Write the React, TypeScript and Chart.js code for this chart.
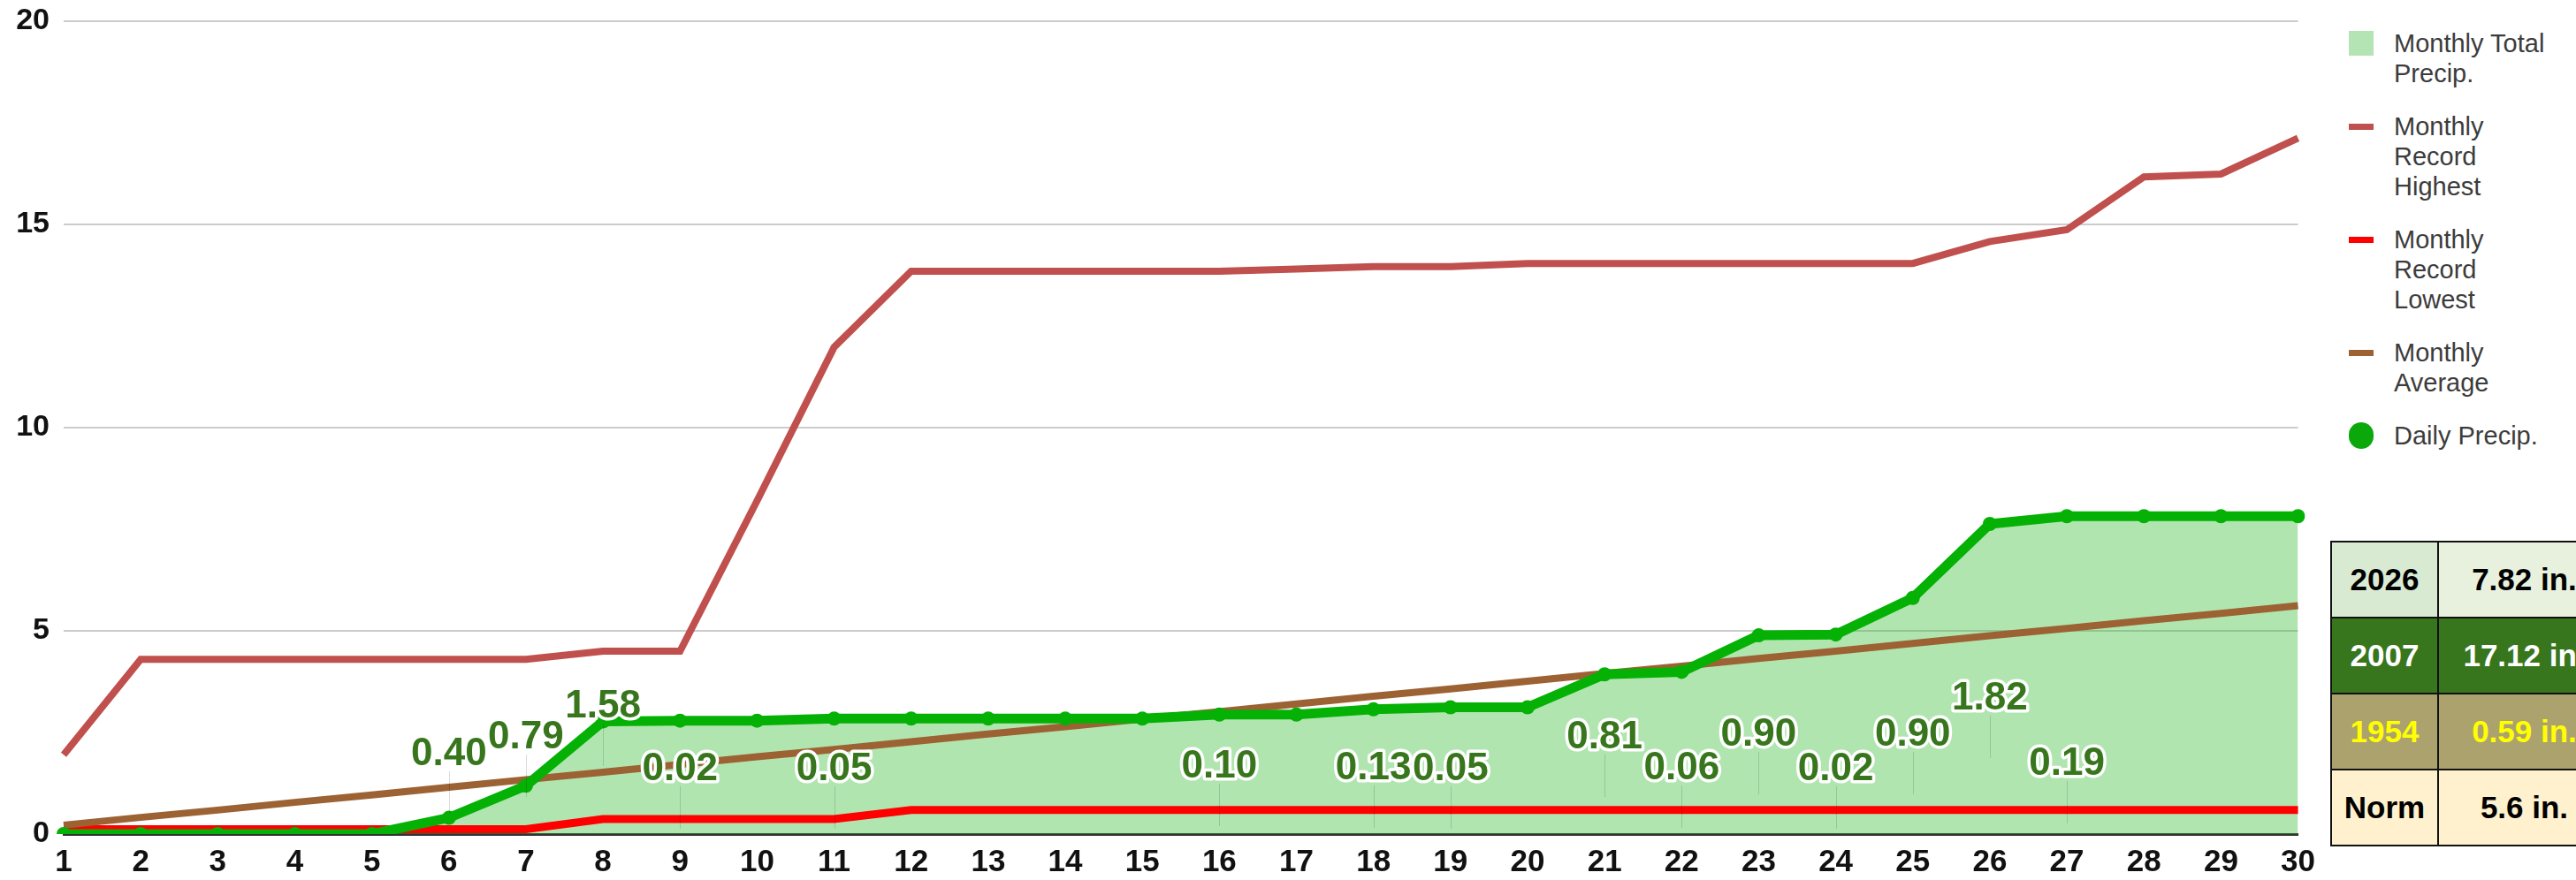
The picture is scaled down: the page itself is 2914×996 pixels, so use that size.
import React, { useEffect, useRef } from 'react';
import { Chart, registerables } from 'chart.js';

Chart.register(...registerables);

const FONT = '"Liberation Sans", Arial, Helvetica, sans-serif';

// ---- data ----
const days = ['1', '2', '3', '4', '5', '6', '7', '8', '9', '10', '11', '12', '13', '14', '15', '16', '17', '18', '19', '20', '21', '22', '23', '24', '25', '26', '27', '28', '29', '30'];

const dailyPrecip = [0, 0, 0, 0, 0, 0.40, 0.79, 1.58, 0.02, 0, 0.05, 0, 0, 0, 0, 0.10, 0, 0.13, 0.05, 0, 0.81, 0.06, 0.90, 0.02, 0.90, 1.82, 0.19, 0, 0, 0];

const monthlyTotal = [0, 0, 0, 0, 0, 0.40, 1.19, 2.77, 2.79, 2.79, 2.84, 2.84, 2.84, 2.84, 2.84, 2.94, 2.94, 3.07, 3.12, 3.12, 3.93, 3.99, 4.89, 4.91, 5.81, 7.63, 7.82, 7.82, 7.82, 7.82];

const recordHighest = [1.95, 4.3, 4.3, 4.3, 4.3, 4.3, 4.3, 4.5, 4.5, 8.2, 11.98, 13.85, 13.85, 13.85, 13.85, 13.85, 13.9, 13.96, 13.96, 14.04, 14.04, 14.04, 14.04, 14.04, 14.04, 14.58, 14.87, 16.17, 16.24, 17.12];

const recordLowest = [0.12, 0.12, 0.12, 0.12, 0.12, 0.12, 0.12, 0.37, 0.37, 0.37, 0.37, 0.59, 0.59, 0.59, 0.59, 0.59, 0.59, 0.59, 0.59, 0.59, 0.59, 0.59, 0.59, 0.59, 0.59, 0.59, 0.59, 0.59, 0.59, 0.59];

const monthlyAverage = [0.22, 0.41, 0.59, 0.78, 0.96, 1.15, 1.34, 1.52, 1.71, 1.90, 2.08, 2.27, 2.46, 2.64, 2.83, 3.01, 3.20, 3.39, 3.57, 3.76, 3.95, 4.13, 4.32, 4.50, 4.69, 4.88, 5.06, 5.25, 5.43, 5.62];

const yTicks = [0, 5, 10, 15, 20];

const tableYears = ['2026', '2007', '1954', 'Norm'];
const tableValues = ['7.82 in.', '17.12 in.', '0.59 in.', '5.6 in.'];

const legendLabels = [
  ['Monthly Total', 'Precip.'],
  ['Monthly', 'Record', 'Highest'],
  ['Monthly', 'Record', 'Lowest'],
  ['Monthly', 'Average'],
  ['Daily Precip.'],
];

// ---- styles ----
const COLORS = {
  area: 'rgba(40,185,40,0.37)',
  areaLegend: '#b4e3b4',
  high: '#c0504d',
  low: '#ff0000',
  avg: '#9c6233',
  green: '#05b105',
  label: '#38761d',
};

const legendMarkers = ['square', 'line', 'line', 'line', 'circle'];
const legendColors = [COLORS.areaLegend, COLORS.high, COLORS.low, COLORS.avg, '#0aa80a'];

const tableStyles = [
  { left: '#d9ead3', right: '#e8f0de', color: '#000000' },
  { left: '#38761d', right: '#38761d', color: '#ffffff' },
  { left: '#aca26e', right: '#aca26e', color: '#ffff00' },
  { left: '#fff1cd', right: '#fff1cd', color: '#000000' },
];

// label lift (px above base) per day index, mimicking annotation stacking
const labelLift: Record<number, number> = {
  5: 17, 6: 36, 7: 71, 8: 0, 10: 0, 15: 3, 17: 1, 18: 0, 20: 36, 21: 1, 22: 39, 23: 0, 24: 39, 25: 80, 26: 6,
};

const dailyLabelsPlugin = {
  id: 'dailyLabels',
  afterDatasetsDraw(chart: any, _args: any, opts: any) {
    const { ctx } = chart;
    const x = chart.scales.x;
    const y = chart.scales.y;
    const zero = y.getPixelForValue(0);
    ctx.save();
    dailyPrecip.forEach((v, i) => {
      if (v <= 0) return;
      const px = Math.round(x.getPixelForValue(i)) + 0.5;
      const py = zero - opts.base - (opts.lift[i] || 0);
      ctx.strokeStyle = 'rgba(0,0,0,0.14)';
      ctx.lineWidth = 1;
      ctx.beginPath();
      ctx.moveTo(px, py + 19);
      ctx.lineTo(px, py + 19 + opts.stem);
      ctx.stroke();
    });
    ctx.font = `bold ${opts.size}px ${FONT}`;
    ctx.textAlign = 'center';
    ctx.textBaseline = 'middle';
    ctx.lineJoin = 'round';
    dailyPrecip.forEach((v, i) => {
      if (v <= 0) return;
      const px = x.getPixelForValue(i);
      const py = zero - opts.base - (opts.lift[i] || 0);
      const txt = v.toFixed(2);
      ctx.strokeStyle = '#ffffff';
      ctx.lineWidth = 7;
      ctx.strokeText(txt, px, py);
      ctx.fillStyle = COLORS.label;
      ctx.fillText(txt, px, py);
    });
    ctx.restore();
  },
};

export default function App() {
  const ref = useRef<HTMLCanvasElement>(null);

  useEffect(() => {
    document.body.style.margin = '0';
    document.body.style.overflow = 'hidden';
    if (!ref.current) return;
    const chart = new Chart(ref.current, {
      type: 'line',
      data: {
        labels: days,
        datasets: [
          {
            label: 'Daily Precip.',
            data: monthlyTotal,
            borderColor: COLORS.green,
            backgroundColor: COLORS.green,
            borderWidth: 11,
            pointRadius: 8,
            pointBackgroundColor: COLORS.green,
            pointBorderWidth: 0,
            tension: 0,
            fill: false,
            order: 0,
          },
          {
            label: 'Monthly Average',
            data: monthlyAverage,
            borderColor: COLORS.avg,
            borderWidth: 8,
            pointRadius: 0,
            fill: false,
            order: 1,
          },
          {
            label: 'Monthly Record Lowest',
            data: recordLowest,
            borderColor: COLORS.low,
            borderWidth: 9,
            pointRadius: 0,
            fill: false,
            order: 2,
          },
          {
            label: 'Monthly Record Highest',
            data: recordHighest,
            borderColor: COLORS.high,
            borderWidth: 8,
            pointRadius: 0,
            fill: false,
            order: 3,
          },
          {
            label: 'Monthly Total Precip.',
            data: monthlyTotal,
            borderWidth: 0,
            borderColor: 'rgba(0,0,0,0)',
            backgroundColor: COLORS.area,
            pointRadius: 0,
            fill: 'origin',
            order: 4,
          },
        ],
      },
      options: {
        responsive: false,
        animation: false,
        layout: { padding: { top: 24, right: 0, left: 0, bottom: 0 } },
        plugins: {
          legend: { display: false },
          tooltip: { enabled: false },
          // @ts-ignore
          dailyLabels: { base: 73, lift: labelLift, stem: 48, size: 44 },
        },
        scales: {
          x: {
            type: 'category',
            grid: { display: false, drawTicks: false },
            border: { display: true, color: '#333333', width: 3 },
            ticks: {
              autoSkip: false,
              maxRotation: 0,
              padding: 11,
              color: '#111111',
              font: { family: FONT, size: 35, weight: 'bold' },
            },
            afterFit: (s: any) => { s.height = 52; },
          },
          y: {
            min: 0,
            max: 20,
            afterBuildTicks: (s: any) => { s.ticks = yTicks.map((v) => ({ value: v })); },
            grid: {
              drawTicks: false,
              color: (c: any) => (c.tick && c.tick.value === 0 ? '#333333' : '#cccccc'),
              lineWidth: (c: any) => (c.tick && c.tick.value === 0 ? 3 : 2),
            },
            border: { display: false },
            ticks: {
              padding: 16,
              color: '#111111',
              font: { family: FONT, size: 34, weight: 'bold' },
            },
            afterFit: (s: any) => { s.width = 72; s.paddingTop = 0; s.paddingBottom = 0; },
          },
        },
      },
      plugins: [dailyLabelsPlugin],
    } as any);
    return () => chart.destroy();
  }, []);

  const cellBase = { border: '2px solid #111', textAlign: 'center' as const, fontWeight: 'bold' as const, fontSize: 35, padding: 0, whiteSpace: 'nowrap' as const };

  return (
    <div style={{ position: 'relative', width: 2914, height: 996, overflow: 'hidden', background: '#ffffff', fontFamily: FONT }}>
      <canvas ref={ref} width={2630} height={996} style={{ position: 'absolute', left: 0, top: 0, width: 2630, height: 996 }} />
      <div style={{ position: 'absolute', left: 2657, top: 32, display: 'flex', flexDirection: 'column', gap: 26 }}>
        {legendLabels.map((lines, i) => (
          <div key={i} style={{ display: 'flex', alignItems: 'flex-start' }}>
            <div style={{ width: 28, height: 34, display: 'flex', alignItems: 'center', justifyContent: 'center', flex: '0 0 28px' }}>
              {legendMarkers[i] === 'square' && <div style={{ width: 28, height: 28, background: legendColors[i] }} />}
              {legendMarkers[i] === 'line' && <div style={{ width: 28, height: 7, background: legendColors[i] }} />}
              {legendMarkers[i] === 'circle' && <div style={{ width: 30, height: 30, borderRadius: 15, background: legendColors[i] }} />}
            </div>
            <div style={{ marginLeft: 23, fontSize: 29, lineHeight: '34px', color: '#3c3c3c', whiteSpace: 'nowrap' }}>
              {lines.map((t, j) => (<div key={j}>{t}</div>))}
            </div>
          </div>
        ))}
      </div>
      <table style={{ position: 'absolute', left: 2636, top: 612, width: 316, borderCollapse: 'collapse', tableLayout: 'fixed' }}>
        <colgroup>
          <col style={{ width: 121 }} />
          <col style={{ width: 195 }} />
        </colgroup>
        <tbody>
          {tableYears.map((yr, i) => (
            <tr key={yr} style={{ height: 86 }}>
              <td style={{ ...cellBase, background: tableStyles[i].left, color: tableStyles[i].color }}>{yr}</td>
              <td style={{ ...cellBase, background: tableStyles[i].right, color: tableStyles[i].color }}>{tableValues[i]}</td>
            </tr>
          ))}
        </tbody>
      </table>
    </div>
  );
}
